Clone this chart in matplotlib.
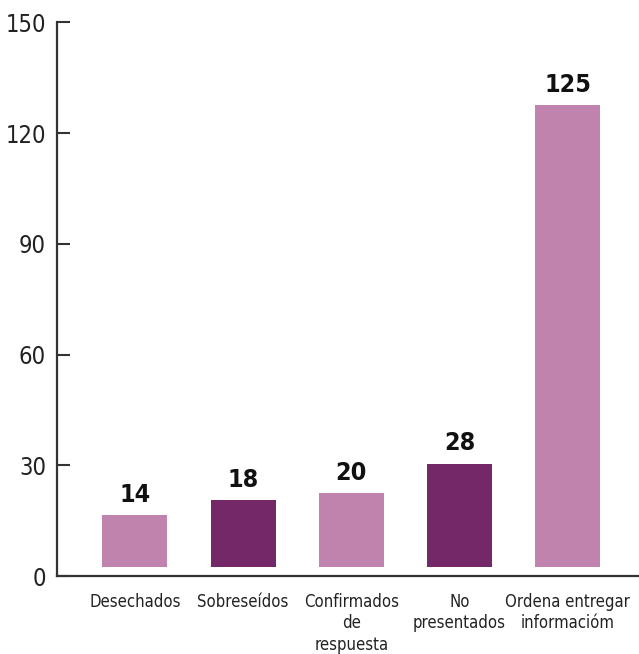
import numpy as np
import matplotlib.pyplot as plt
from matplotlib import font_manager

# data
categories = ['Desechados', 'Sobreseídos', 'Confirmados\nde\nrespuesta',
              'No\npresentados', 'Ordena entregar\ninformacióm']
values = [14, 18, 20, 28, 125]
yticks = [0, 30, 60, 90, 120, 150]

light = '#C083AE'
dark = '#742867'
colors = [light, dark, light, dark, light]

# pick a narrow font if one is installed
names = set(f.name for f in font_manager.fontManager.ttflist)
stretches = [(f.name, f.stretch) for f in font_manager.fontManager.ttflist]
if 'Liberation Sans Narrow' in names:
    fam, stretch = 'Liberation Sans Narrow', 'normal'
elif ('DejaVu Sans', 'condensed') in stretches or ('DejaVu Sans', 'semi-condensed') in stretches:
    fam, stretch = 'DejaVu Sans', 'condensed'
else:
    fam, stretch = 'Liberation Sans', 'normal'

fig = plt.figure(figsize=(6.39, 6.54), dpi=100)
ax = fig.add_axes([0.0892, 0.119, 0.9108, 0.847])

x = np.arange(len(values))
# bars sit slightly above the axis line in the original
base = 2.5
ax.bar(x, values, width=0.6, bottom=base, color=colors)

for xi, v in zip(x, values):
    ax.text(xi, v + base + 2.2, str(v), ha='center', va='bottom',
            family=fam, fontstretch=stretch, fontweight='heavy', fontsize=18,
            color='#111111')

ax.set_xlim(-0.72, 4.66)
ax.set_ylim(0, 150)
ax.set_yticks(yticks)
ax.set_xticks(x)
ax.set_xticklabels(categories, family=fam, fontstretch=stretch, fontsize=12,
                   linespacing=1.25, color='#222222')
for lab in ax.get_yticklabels():
    lab.set_family(fam)
    lab.set_fontstretch(stretch)
    lab.set_fontsize(17)
    lab.set_color('#222222')

ax.tick_params(axis='x', length=0, pad=12)
ax.tick_params(axis='y', direction='in', length=9, width=1.5, pad=8,
               color='#333333')

for s in ['top', 'right']:
    ax.spines[s].set_visible(False)
for s in ['left', 'bottom']:
    ax.spines[s].set_linewidth(1.6)
    ax.spines[s].set_color('#333333')

fig.savefig('out.png', dpi=100)
